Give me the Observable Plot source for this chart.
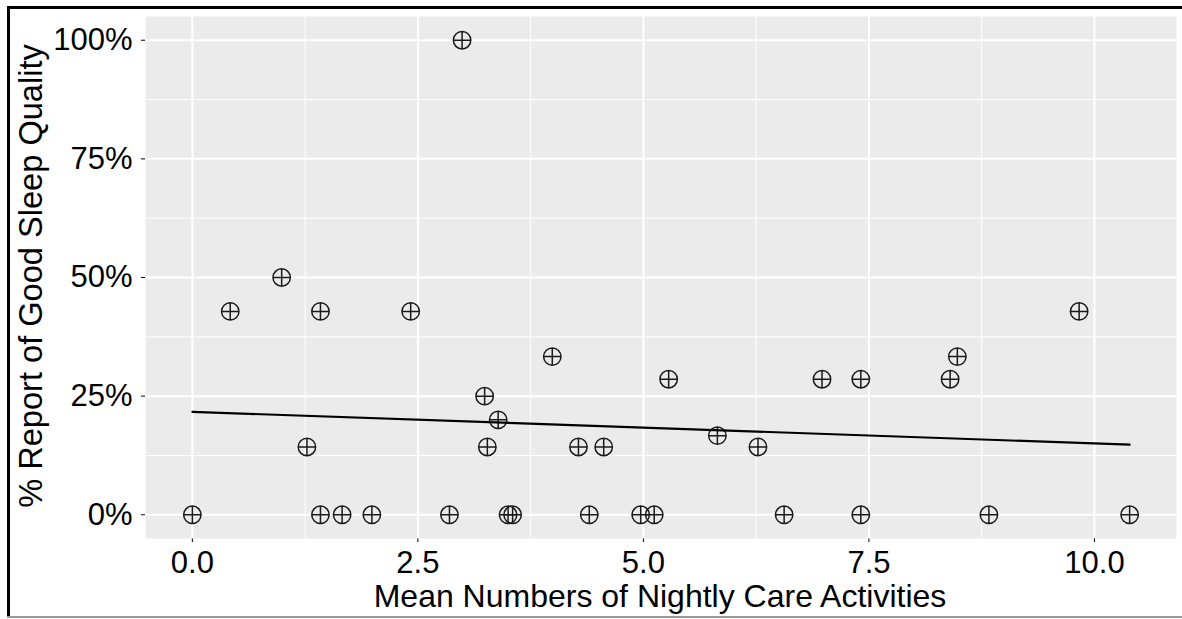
<!DOCTYPE html>
<html>
<head>
<meta charset="utf-8">
<script src="https://cdn.jsdelivr.net/npm/d3@7"></script>
<script src="https://cdn.jsdelivr.net/npm/@observablehq/plot@0.6"></script>
<style>
  html, body { margin: 0; padding: 0; background: #ffffff; }
  #wrap { position: relative; width: 1182px; height: 619px; overflow: hidden; font-family: "Liberation Sans", Arial, sans-serif; }
  #chart { position: absolute; left: 0; top: 0; }
  .title { position: absolute; font-size: 32px; line-height: 1; white-space: nowrap; color: #000; }
  #xtitle { left: 660px; top: 579.6px; transform: translateX(-50%); }
  #ytitle { left: 31px; top: 276px; font-size: 32.6px; transform: translate(-50%, -50%) rotate(-90deg); }
  .edge { position: absolute; }
</style>
</head>
<body>
<div id="wrap">
  <div id="chart"></div>
  <div class="title" id="xtitle">Mean Numbers of Nightly Care Activities</div>
  <div class="title" id="ytitle">% Report of Good Sleep Quality</div>
  <div class="edge" style="left:7px;top:6px;width:1175px;height:2.5px;background:#000;"></div>
  <div class="edge" style="left:7px;top:6px;width:3px;height:611px;background:#000;"></div>
  <div class="edge" style="left:7px;top:616px;width:1175px;height:1.5px;background:#9a9a9a;"></div>
</div>
<script>
// Mean numbers of nightly care activities (x) and share reporting good sleep quality (y)
const careActivities = [
  0.00, 1.42, 1.66, 1.99, 2.85, 3.50, 3.55, 4.40, 4.97, 5.12, 6.56, 7.41, 8.83, 10.39,
  1.27, 3.27, 4.28, 4.56, 6.27,
  5.82,
  3.39,
  3.24,
  5.28, 6.98, 7.41, 8.40,
  3.99, 8.48,
  0.42, 1.42, 2.42, 9.83,
  0.99,
  2.99
];
const goodSleepShare = [
  0, 0, 0, 0, 0, 0, 0, 0, 0, 0, 0, 0, 0, 0,
  0.1429, 0.1429, 0.1429, 0.1429, 0.1429,
  0.1667,
  0.2,
  0.25,
  0.2857, 0.2857, 0.2857, 0.2857,
  0.3333, 0.3333,
  0.4286, 0.4286, 0.4286, 0.4286,
  0.5,
  1.0
];
const xTicks = [0, 2.5, 5, 7.5, 10];
const xMinorTicks = [1.25, 3.75, 6.25, 8.75];
const yTicks = [0, 0.25, 0.5, 0.75, 1];
const yMinorTicks = [0.125, 0.375, 0.625, 0.875];
const xTickLabels = ["0.0", "2.5", "5.0", "7.5", "10.0"];
const yTickLabels = ["0%", "25%", "50%", "75%", "100%"];

const points = careActivities.map((x, i) => ({x, y: goodSleepShare[i]}));

// ggplot-style 5% expansion of the data range
const xExt = d3.extent(careActivities);
const yExt = [0, 1];
const xPad = (xExt[1] - xExt[0]) * 0.05;
const yPad = (yExt[1] - yExt[0]) * 0.05;

// R shape 10: circle with a plus inside
const circlePlus = {
  draw(ctx, size) {
    const r = Math.sqrt(size / Math.PI);
    ctx.moveTo(r, 0);
    ctx.arc(0, 0, r, 0, 2 * Math.PI);
    ctx.moveTo(-r, 0); ctx.lineTo(r, 0);
    ctx.moveTo(0, -r); ctx.lineTo(0, r);
  }
};

const chart = Plot.plot({
  width: 1182,
  height: 619,
  marginLeft: 145,
  marginRight: 6,
  marginTop: 16,
  marginBottom: 81,
  style: {
    fontSize: "31px",
    fontFamily: "'Liberation Sans', Arial, sans-serif",
    color: "#000",
    background: "transparent",
    overflow: "visible"
  },
  x: {
    domain: [xExt[0] - xPad, xExt[1] + xPad],
    ticks: xTicks,
    tickFormat: d => xTickLabels[xTicks.indexOf(d)],
    tickSize: 4,
    tickPadding: 8,
    label: null
  },
  y: {
    domain: [yExt[0] - yPad, yExt[1] + yPad],
    ticks: yTicks,
    tickFormat: d => yTickLabels[yTicks.indexOf(d)],
    tickSize: 4,
    tickPadding: 9,
    label: null
  },
  marks: [
    Plot.frame({fill: "#EBEBEB", stroke: "none"}),
    Plot.ruleX(xMinorTicks, {stroke: "#ffffff", strokeWidth: 1}),
    Plot.ruleY(yMinorTicks, {stroke: "#ffffff", strokeWidth: 1}),
    Plot.ruleX(xTicks, {stroke: "#ffffff", strokeWidth: 2}),
    Plot.ruleY(yTicks, {stroke: "#ffffff", strokeWidth: 2}),
    Plot.dot(points, {x: "x", y: "y", r: 8.7, symbol: circlePlus, fill: "none", stroke: "#1a1a1a", strokeWidth: 1.5}),
    Plot.linearRegressionY(points, {x: "x", y: "y", ci: 0, stroke: "#000", strokeWidth: 2.2})
  ]
});
document.getElementById("chart").appendChild(chart);
</script>
</body>
</html>
